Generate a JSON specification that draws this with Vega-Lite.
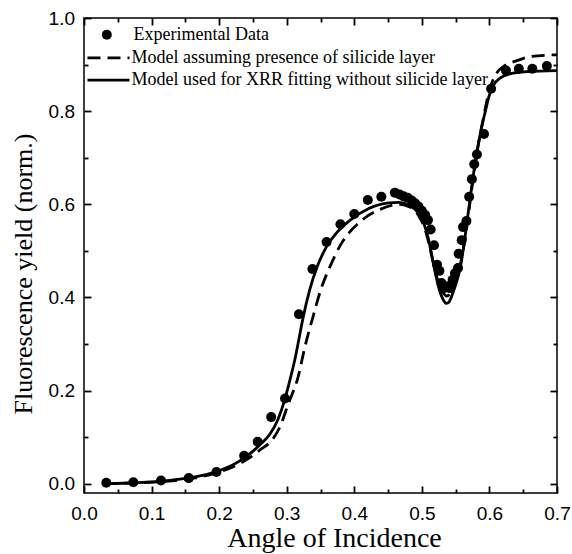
{
  "$schema": "https://vega.github.io/schema/vega-lite/v6.json",
  "width": 473,
  "height": 475,
  "autosize": "none",
  "padding": {"left": 84, "top": 18, "right": 15, "bottom": 61},
  "background": "white",
  "config": {
    "view": {"stroke": "black", "strokeWidth": 1.5},
    "axis": {"zindex": 1, "grid": false, "domain": false, "ticks": true, "tickColor": "black", "tickOpacity": 1, "tickWidth": 1.8, "labelColor": "black", "labelFlush": false, "labelOverlap": false, "labelFont": "Liberation Sans", "labelFontSize": 19, "titleFont": "Liberation Serif", "titleFontSize": 27, "titleFontWeight": "normal", "titleColor": "black"},
    "legend": {"labelFont": "Liberation Serif", "labelFontSize": 18, "labelColor": "black", "labelLimit": 500, "padding": 0, "title": null}
  },
  "datasets": {
    "points": [
      {"angle": 0.033, "yield": 0.002, "series": "Experimental Data"},
      {"angle": 0.073, "yield": 0.003, "series": "Experimental Data"},
      {"angle": 0.114, "yield": 0.007, "series": "Experimental Data"},
      {"angle": 0.155, "yield": 0.012, "series": "Experimental Data"},
      {"angle": 0.196, "yield": 0.025, "series": "Experimental Data"},
      {"angle": 0.237, "yield": 0.060, "series": "Experimental Data"},
      {"angle": 0.257, "yield": 0.090, "series": "Experimental Data"},
      {"angle": 0.277, "yield": 0.143, "series": "Experimental Data"},
      {"angle": 0.2975, "yield": 0.183, "series": "Experimental Data"},
      {"angle": 0.318, "yield": 0.364, "series": "Experimental Data"},
      {"angle": 0.338, "yield": 0.461, "series": "Experimental Data"},
      {"angle": 0.359, "yield": 0.519, "series": "Experimental Data"},
      {"angle": 0.3795, "yield": 0.557, "series": "Experimental Data"},
      {"angle": 0.400, "yield": 0.579, "series": "Experimental Data"},
      {"angle": 0.420, "yield": 0.609, "series": "Experimental Data"},
      {"angle": 0.440, "yield": 0.616, "series": "Experimental Data"},
      {"angle": 0.460, "yield": 0.625, "series": "Experimental Data"},
      {"angle": 0.467, "yield": 0.621, "series": "Experimental Data"},
      {"angle": 0.473, "yield": 0.617, "series": "Experimental Data"},
      {"angle": 0.479, "yield": 0.614, "series": "Experimental Data"},
      {"angle": 0.485, "yield": 0.608, "series": "Experimental Data"},
      {"angle": 0.490, "yield": 0.602, "series": "Experimental Data"},
      {"angle": 0.495, "yield": 0.595, "series": "Experimental Data"},
      {"angle": 0.500, "yield": 0.586, "series": "Experimental Data"},
      {"angle": 0.505, "yield": 0.577, "series": "Experimental Data"},
      {"angle": 0.509, "yield": 0.566, "series": "Experimental Data"},
      {"angle": 0.513, "yield": 0.546, "series": "Experimental Data"},
      {"angle": 0.518, "yield": 0.512, "series": "Experimental Data"},
      {"angle": 0.5225, "yield": 0.470, "series": "Experimental Data"},
      {"angle": 0.526, "yield": 0.457, "series": "Experimental Data"},
      {"angle": 0.529, "yield": 0.431, "series": "Experimental Data"},
      {"angle": 0.532, "yield": 0.419, "series": "Experimental Data"},
      {"angle": 0.536, "yield": 0.424, "series": "Experimental Data"},
      {"angle": 0.5415, "yield": 0.420, "series": "Experimental Data"},
      {"angle": 0.5455, "yield": 0.438, "series": "Experimental Data"},
      {"angle": 0.549, "yield": 0.452, "series": "Experimental Data"},
      {"angle": 0.5535, "yield": 0.463, "series": "Experimental Data"},
      {"angle": 0.5545, "yield": 0.494, "series": "Experimental Data"},
      {"angle": 0.559, "yield": 0.523, "series": "Experimental Data"},
      {"angle": 0.561, "yield": 0.551, "series": "Experimental Data"},
      {"angle": 0.566, "yield": 0.564, "series": "Experimental Data"},
      {"angle": 0.570, "yield": 0.616, "series": "Experimental Data"},
      {"angle": 0.574, "yield": 0.654, "series": "Experimental Data"},
      {"angle": 0.5775, "yield": 0.686, "series": "Experimental Data"},
      {"angle": 0.5815, "yield": 0.707, "series": "Experimental Data"},
      {"angle": 0.592, "yield": 0.751, "series": "Experimental Data"},
      {"angle": 0.6025, "yield": 0.848, "series": "Experimental Data"},
      {"angle": 0.6245, "yield": 0.887, "series": "Experimental Data"},
      {"angle": 0.6435, "yield": 0.891, "series": "Experimental Data"},
      {"angle": 0.6635, "yield": 0.891, "series": "Experimental Data"},
      {"angle": 0.685, "yield": 0.897, "series": "Experimental Data"}
    ],
    "fit": [
      {"angle": 0.03, "yield": 0.000, "model": "Model used for XRR fitting without silicide layer"},
      {"angle": 0.08, "yield": 0.002, "model": "Model used for XRR fitting without silicide layer"},
      {"angle": 0.12, "yield": 0.006, "model": "Model used for XRR fitting without silicide layer"},
      {"angle": 0.1415, "yield": 0.010, "model": "Model used for XRR fitting without silicide layer"},
      {"angle": 0.17, "yield": 0.016, "model": "Model used for XRR fitting without silicide layer"},
      {"angle": 0.196, "yield": 0.026, "model": "Model used for XRR fitting without silicide layer"},
      {"angle": 0.22, "yield": 0.040, "model": "Model used for XRR fitting without silicide layer"},
      {"angle": 0.24, "yield": 0.058, "model": "Model used for XRR fitting without silicide layer"},
      {"angle": 0.26, "yield": 0.083, "model": "Model used for XRR fitting without silicide layer"},
      {"angle": 0.275, "yield": 0.106, "model": "Model used for XRR fitting without silicide layer"},
      {"angle": 0.287, "yield": 0.138, "model": "Model used for XRR fitting without silicide layer"},
      {"angle": 0.297, "yield": 0.180, "model": "Model used for XRR fitting without silicide layer"},
      {"angle": 0.305, "yield": 0.224, "model": "Model used for XRR fitting without silicide layer"},
      {"angle": 0.312, "yield": 0.266, "model": "Model used for XRR fitting without silicide layer"},
      {"angle": 0.318, "yield": 0.310, "model": "Model used for XRR fitting without silicide layer"},
      {"angle": 0.324, "yield": 0.355, "model": "Model used for XRR fitting without silicide layer"},
      {"angle": 0.334, "yield": 0.416, "model": "Model used for XRR fitting without silicide layer"},
      {"angle": 0.344, "yield": 0.462, "model": "Model used for XRR fitting without silicide layer"},
      {"angle": 0.359, "yield": 0.509, "model": "Model used for XRR fitting without silicide layer"},
      {"angle": 0.374, "yield": 0.539, "model": "Model used for XRR fitting without silicide layer"},
      {"angle": 0.393, "yield": 0.565, "model": "Model used for XRR fitting without silicide layer"},
      {"angle": 0.4215, "yield": 0.591, "model": "Model used for XRR fitting without silicide layer"},
      {"angle": 0.451, "yield": 0.603, "model": "Model used for XRR fitting without silicide layer"},
      {"angle": 0.466, "yield": 0.604, "model": "Model used for XRR fitting without silicide layer"},
      {"angle": 0.481, "yield": 0.598, "model": "Model used for XRR fitting without silicide layer"},
      {"angle": 0.4956, "yield": 0.580, "model": "Model used for XRR fitting without silicide layer"},
      {"angle": 0.503, "yield": 0.558, "model": "Model used for XRR fitting without silicide layer"},
      {"angle": 0.509, "yield": 0.530, "model": "Model used for XRR fitting without silicide layer"},
      {"angle": 0.515, "yield": 0.488, "model": "Model used for XRR fitting without silicide layer"},
      {"angle": 0.521, "yield": 0.445, "model": "Model used for XRR fitting without silicide layer"},
      {"angle": 0.527, "yield": 0.411, "model": "Model used for XRR fitting without silicide layer"},
      {"angle": 0.532, "yield": 0.394, "model": "Model used for XRR fitting without silicide layer"},
      {"angle": 0.5366, "yield": 0.387, "model": "Model used for XRR fitting without silicide layer"},
      {"angle": 0.541, "yield": 0.392, "model": "Model used for XRR fitting without silicide layer"},
      {"angle": 0.546, "yield": 0.410, "model": "Model used for XRR fitting without silicide layer"},
      {"angle": 0.551, "yield": 0.432, "model": "Model used for XRR fitting without silicide layer"},
      {"angle": 0.556, "yield": 0.458, "model": "Model used for XRR fitting without silicide layer"},
      {"angle": 0.562, "yield": 0.510, "model": "Model used for XRR fitting without silicide layer"},
      {"angle": 0.568, "yield": 0.575, "model": "Model used for XRR fitting without silicide layer"},
      {"angle": 0.574, "yield": 0.640, "model": "Model used for XRR fitting without silicide layer"},
      {"angle": 0.580, "yield": 0.700, "model": "Model used for XRR fitting without silicide layer"},
      {"angle": 0.587, "yield": 0.755, "model": "Model used for XRR fitting without silicide layer"},
      {"angle": 0.594, "yield": 0.800, "model": "Model used for XRR fitting without silicide layer"},
      {"angle": 0.600, "yield": 0.835, "model": "Model used for XRR fitting without silicide layer"},
      {"angle": 0.607, "yield": 0.858, "model": "Model used for XRR fitting without silicide layer"},
      {"angle": 0.615, "yield": 0.870, "model": "Model used for XRR fitting without silicide layer"},
      {"angle": 0.630, "yield": 0.880, "model": "Model used for XRR fitting without silicide layer"},
      {"angle": 0.655, "yield": 0.885, "model": "Model used for XRR fitting without silicide layer"},
      {"angle": 0.700, "yield": 0.887, "model": "Model used for XRR fitting without silicide layer"}
    ],
    "silicide": [
      {"angle": 0.03, "yield": 0.000, "variant": "Model assuming presence of silicide layer"},
      {"angle": 0.08, "yield": 0.002, "variant": "Model assuming presence of silicide layer"},
      {"angle": 0.12, "yield": 0.005, "variant": "Model assuming presence of silicide layer"},
      {"angle": 0.17, "yield": 0.014, "variant": "Model assuming presence of silicide layer"},
      {"angle": 0.20, "yield": 0.025, "variant": "Model assuming presence of silicide layer"},
      {"angle": 0.24, "yield": 0.051, "variant": "Model assuming presence of silicide layer"},
      {"angle": 0.26, "yield": 0.072, "variant": "Model assuming presence of silicide layer"},
      {"angle": 0.28, "yield": 0.097, "variant": "Model assuming presence of silicide layer"},
      {"angle": 0.29, "yield": 0.122, "variant": "Model assuming presence of silicide layer"},
      {"angle": 0.302, "yield": 0.170, "variant": "Model assuming presence of silicide layer"},
      {"angle": 0.317, "yield": 0.230, "variant": "Model assuming presence of silicide layer"},
      {"angle": 0.327, "yield": 0.294, "variant": "Model assuming presence of silicide layer"},
      {"angle": 0.339, "yield": 0.359, "variant": "Model assuming presence of silicide layer"},
      {"angle": 0.351, "yield": 0.419, "variant": "Model assuming presence of silicide layer"},
      {"angle": 0.364, "yield": 0.466, "variant": "Model assuming presence of silicide layer"},
      {"angle": 0.381, "yield": 0.516, "variant": "Model assuming presence of silicide layer"},
      {"angle": 0.393, "yield": 0.540, "variant": "Model assuming presence of silicide layer"},
      {"angle": 0.408, "yield": 0.562, "variant": "Model assuming presence of silicide layer"},
      {"angle": 0.438, "yield": 0.589, "variant": "Model assuming presence of silicide layer"},
      {"angle": 0.466, "yield": 0.600, "variant": "Model assuming presence of silicide layer"},
      {"angle": 0.481, "yield": 0.595, "variant": "Model assuming presence of silicide layer"},
      {"angle": 0.495, "yield": 0.576, "variant": "Model assuming presence of silicide layer"},
      {"angle": 0.505, "yield": 0.545, "variant": "Model assuming presence of silicide layer"},
      {"angle": 0.513, "yield": 0.500, "variant": "Model assuming presence of silicide layer"},
      {"angle": 0.520, "yield": 0.455, "variant": "Model assuming presence of silicide layer"},
      {"angle": 0.528, "yield": 0.420, "variant": "Model assuming presence of silicide layer"},
      {"angle": 0.537, "yield": 0.403, "variant": "Model assuming presence of silicide layer"},
      {"angle": 0.546, "yield": 0.420, "variant": "Model assuming presence of silicide layer"},
      {"angle": 0.556, "yield": 0.465, "variant": "Model assuming presence of silicide layer"},
      {"angle": 0.566, "yield": 0.545, "variant": "Model assuming presence of silicide layer"},
      {"angle": 0.574, "yield": 0.635, "variant": "Model assuming presence of silicide layer"},
      {"angle": 0.581, "yield": 0.705, "variant": "Model assuming presence of silicide layer"},
      {"angle": 0.591, "yield": 0.785, "variant": "Model assuming presence of silicide layer"},
      {"angle": 0.600, "yield": 0.845, "variant": "Model assuming presence of silicide layer"},
      {"angle": 0.610, "yield": 0.880, "variant": "Model assuming presence of silicide layer"},
      {"angle": 0.623, "yield": 0.898, "variant": "Model assuming presence of silicide layer"},
      {"angle": 0.638, "yield": 0.907, "variant": "Model assuming presence of silicide layer"},
      {"angle": 0.6625, "yield": 0.9175, "variant": "Model assuming presence of silicide layer"},
      {"angle": 0.700, "yield": 0.921, "variant": "Model assuming presence of silicide layer"}
    ]
  },
  "resolve": {"axis": {"x": "independent", "y": "independent"}},
  "layer": [
    {
      "data": {"name": "fit"},
      "mark": {"type": "line", "strokeWidth": 2.8, "interpolate": "monotone", "clip": true},
      "encoding": {
        "x": {"field": "angle", "type": "quantitative", "scale": {"domain": [0, 0.7], "nice": false, "zero": false},
          "axis": {"orient": "bottom", "values": [0, 0.1, 0.2, 0.3, 0.4, 0.5, 0.6, 0.7], "format": ".1f", "offset": -7, "tickSize": 7, "labelPadding": 11,
            "title": "Angle of Incidence", "titleFontSize": 28, "titleX": 250, "titleY": 60, "titleBaseline": "alphabetic"}},
        "y": {"field": "yield", "type": "quantitative", "scale": {"domain": [-0.02, 1.0], "nice": false, "zero": false},
          "axis": {"orient": "left", "values": [0, 0.2, 0.4, 0.6, 0.8, 1.0], "format": ".1f", "offset": -7, "tickSize": 7, "labelPadding": 9.5,
            "title": "Fluorescence yield (norm.)", "titleFontSize": 26, "titleX": -60, "titleY": 255.5, "titleBaseline": "alphabetic", "titleAngle": -90}},
        "color": {"field": "model", "type": "nominal", "scale": {"range": ["black"]},
          "legend": {"orient": "none", "legendX": 2, "legendY": 39.7, "symbolSize": 1764, "symbolStrokeWidth": 2.8, "labelOffset": 0.5}}
      }
    },
    {
      "data": {"name": "silicide"},
      "mark": {"type": "line", "color": "black", "strokeWidth": 2.8, "interpolate": "monotone", "clip": true},
      "encoding": {
        "x": {"field": "angle", "type": "quantitative",
          "axis": {"orient": "top", "values": [0, 0.1, 0.2, 0.3, 0.4, 0.5, 0.6, 0.7], "labels": false, "offset": -7, "tickSize": 7, "title": null}},
        "y": {"field": "yield", "type": "quantitative",
          "axis": {"orient": "right", "values": [0, 0.2, 0.4, 0.6, 0.8, 1.0], "labels": false, "offset": -7, "tickSize": 7, "title": null}},
        "strokeDash": {"field": "variant", "type": "nominal", "scale": {"range": [[13, 7]]},
          "legend": {"orient": "none", "legendX": 2, "legendY": 17.3, "symbolSize": 1764, "symbolStrokeWidth": 2.8, "symbolStrokeColor": "black", "labelOffset": 0.5}}
      }
    },
    {
      "data": {"name": "points"},
      "mark": {"type": "point", "filled": true, "color": "black", "opacity": 1, "size": 100},
      "encoding": {
        "x": {"field": "angle", "type": "quantitative",
          "axis": {"orient": "bottom", "values": [0.05, 0.15, 0.25, 0.35, 0.45, 0.55, 0.65], "labels": false, "offset": -4, "tickSize": 4, "title": null}},
        "y": {"field": "yield", "type": "quantitative",
          "axis": {"orient": "left", "values": [0.1, 0.3, 0.5, 0.7, 0.9], "labels": false, "offset": -4, "tickSize": 4, "title": null}},
        "shape": {"field": "series", "type": "nominal", "scale": {"range": ["circle"]},
          "legend": {"orient": "none", "legendX": 13.8, "legendY": 7.7, "symbolSize": 100, "labelOffset": 17.7}}
      }
    },
    {
      "data": {"name": "points"},
      "mark": {"type": "point", "opacity": 0},
      "encoding": {
        "x": {"field": "angle", "type": "quantitative",
          "axis": {"orient": "top", "values": [0.05, 0.15, 0.25, 0.35, 0.45, 0.55, 0.65], "labels": false, "offset": -4, "tickSize": 4, "title": null}},
        "y": {"field": "yield", "type": "quantitative",
          "axis": {"orient": "right", "values": [0.1, 0.3, 0.5, 0.7, 0.9], "labels": false, "offset": -4, "tickSize": 4, "title": null}}
      }
    }
  ]
}
